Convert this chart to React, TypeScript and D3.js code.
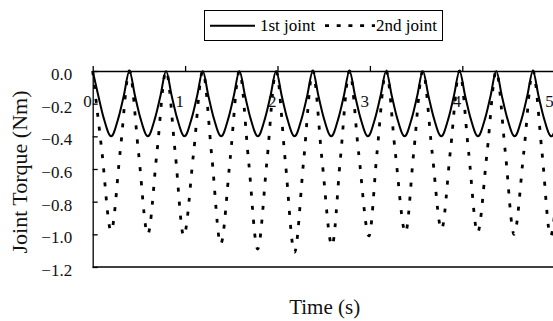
import React, { useEffect, useRef } from 'react';
import * as d3 from 'd3';

// 1st joint (solid line)
const joint1Time = [
  0, 0.06, 0.12, 0.199, 0.277, 0.337,
  0.397, 0.457, 0.517, 0.596, 0.674, 0.734,
  0.794, 0.854, 0.914, 0.993, 1.071, 1.131,
  1.191, 1.251, 1.311, 1.39, 1.468, 1.528,
  1.588, 1.648, 1.708, 1.787, 1.865, 1.925,
  1.985, 2.045, 2.105, 2.184, 2.262, 2.322,
  2.382, 2.442, 2.502, 2.581, 2.659, 2.719,
  2.779, 2.839, 2.899, 2.978, 3.056, 3.116,
  3.176, 3.236, 3.296, 3.375, 3.453, 3.513,
  3.573, 3.633, 3.693, 3.772, 3.85, 3.91,
  3.97, 4.03, 4.09, 4.169, 4.247, 4.307,
  4.367, 4.427, 4.487, 4.566, 4.644, 4.704,
  4.764, 4.824, 4.884, 4.963, 5.041, 5.101,
  5.161,
];
const joint1Torque = [
  0, -0.15, -0.29, -0.4, -0.29, -0.15,
  0, -0.15, -0.29, -0.4, -0.29, -0.15,
  0, -0.15, -0.29, -0.4, -0.29, -0.15,
  0, -0.15, -0.29, -0.4, -0.29, -0.15,
  0, -0.15, -0.29, -0.4, -0.29, -0.15,
  0, -0.15, -0.29, -0.4, -0.29, -0.15,
  0, -0.15, -0.29, -0.4, -0.29, -0.15,
  0, -0.15, -0.29, -0.4, -0.29, -0.15,
  0, -0.15, -0.29, -0.4, -0.29, -0.15,
  0, -0.15, -0.29, -0.4, -0.29, -0.15,
  0, -0.15, -0.29, -0.4, -0.29, -0.15,
  0, -0.15, -0.29, -0.4, -0.29, -0.15,
  0, -0.15, -0.29, -0.4, -0.29, -0.15,
  0,
];

// 2nd joint (dashed line)
const joint2Time = [
  0, 0.099, 0.199, 0.298,
  0.397, 0.496, 0.596, 0.695,
  0.794, 0.893, 0.985, 1.092,
  1.191, 1.29, 1.385, 1.489,
  1.588, 1.687, 1.785, 1.886,
  1.985, 2.084, 2.184, 2.283,
  2.382, 2.481, 2.59, 2.68,
  2.779, 2.878, 2.99, 3.077,
  3.176, 3.275, 3.385, 3.474,
  3.573, 3.672, 3.775, 3.871,
  3.97, 4.069, 4.165, 4.268,
  4.367, 4.466, 4.56, 4.665,
  4.764, 4.863, 4.955, 5.062,
  5.161,
];
const joint2Torque = [
  0, -0.49, -0.98, -0.49,
  0, -0.5, -1.0, -0.5,
  0, -0.5, -1.01, -0.5,
  0, -0.53, -1.06, -0.53,
  0, -0.55, -1.09, -0.55,
  0, -0.55, -1.11, -0.55,
  0, -0.54, -1.07, -0.54,
  0, -0.5, -1.01, -0.5,
  0, -0.5, -0.99, -0.5,
  0, -0.49, -0.97, -0.49,
  0, -0.5, -0.99, -0.5,
  0, -0.5, -1.0, -0.5,
  0, -0.5, -1.01, -0.5,
  0,
];

const xTicks = [0, 1, 2, 3, 4, 5];
const yTicks = [0, -0.2, -0.4, -0.6, -0.8, -1.0, -1.2];

const FONT = '"Liberation Serif", "Times New Roman", serif';

const App = () => {
  const svgRef = useRef(null);

  useEffect(() => {
    const width = 553;
    const height = 321;
    const left = 92.7;
    const top = 71;
    const bottom = 267;

    d3.select(svgRef.current).selectAll('*').remove();

    const svg = d3
      .select(svgRef.current)
      .attr('width', width)
      .attr('height', height);

    const x = d3.scaleLinear().domain([0, 5]).range([left, 554.7]);
    const y = d3.scaleLinear().domain([-1.2, 0]).range([bottom, top]);

    // curves
    const line = d3
      .line()
      .x(d => x(d[0]))
      .y(d => y(d[1]))
      .curve(d3.curveMonotoneX);

    const s1 = joint1Time.map((t, i) => [t, joint1Torque[i]]);
    const s2 = joint2Time.map((t, i) => [t, joint2Torque[i]]);

    svg
      .append('path')
      .attr('d', line(s2))
      .attr('fill', 'none')
      .attr('stroke', '#000')
      .attr('stroke-width', 2.8)
      .attr('stroke-dasharray', '4 10');

    svg
      .append('path')
      .attr('d', line(s1))
      .attr('fill', 'none')
      .attr('stroke', '#000')
      .attr('stroke-width', 2);

    // top axis (y = 0)
    const topAxis = svg
      .append('g')
      .attr('transform', `translate(0, ${top})`)
      .call(
        d3
          .axisTop(x)
          .tickValues(xTicks)
          .tickSizeInner(5)
          .tickSizeOuter(0)
          .tickFormat(() => '')
      );
    topAxis.selectAll('path, line').attr('stroke', '#000').attr('stroke-width', 1.3);

    svg
      .selectAll('.xlab')
      .data(xTicks)
      .enter()
      .append('text')
      .attr('x', d => x(d) - 1)
      .attr('y', 106.5)
      .attr('text-anchor', 'end')
      .style('font-family', FONT)
      .style('font-size', '17px')
      .attr('fill', '#111')
      .text(d => d);

    // left axis, ticks inward
    const leftAxis = svg
      .append('g')
      .attr('transform', `translate(${left}, 0)`)
      .call(
        d3
          .axisLeft(y)
          .tickValues(yTicks)
          .tickSizeInner(-5)
          .tickSizeOuter(0)
          .tickPadding(20.5)
          .tickFormat(d3.format('.1f'))
      );
    leftAxis.selectAll('path, line').attr('stroke', '#000').attr('stroke-width', 1.3);
    leftAxis
      .selectAll('text')
      .attr('dy', null)
      .attr('y', 8.5)
      .style('font-family', FONT)
      .style('font-size', '17px')
      .attr('fill', '#111');

    // bottom border
    svg
      .append('line')
      .attr('x1', left)
      .attr('x2', width)
      .attr('y1', bottom)
      .attr('y2', bottom)
      .attr('stroke', '#000')
      .attr('stroke-width', 1.3);

    // axis titles
    svg
      .append('text')
      .attr('x', 324.7)
      .attr('y', 314)
      .attr('text-anchor', 'middle')
      .style('font-family', FONT)
      .style('font-size', '21px')
      .attr('fill', '#111')
      .text('Time (s)');

    svg
      .append('text')
      .attr('transform', 'rotate(-90)')
      .attr('x', -172)
      .attr('y', 27)
      .attr('text-anchor', 'middle')
      .style('font-family', FONT)
      .style('font-size', '22px')
      .attr('fill', '#111')
      .text('Joint Torque (Nm)');

    // legend
    const legend = svg.append('g');
    legend
      .append('rect')
      .attr('x', 204.5)
      .attr('y', 10.5)
      .attr('width', 238)
      .attr('height', 30)
      .attr('fill', '#fff')
      .attr('stroke', '#000')
      .attr('stroke-width', 1);
    legend
      .append('line')
      .attr('x1', 210)
      .attr('x2', 255)
      .attr('y1', 25.7)
      .attr('y2', 25.7)
      .attr('stroke', '#000')
      .attr('stroke-width', 2);
    legend
      .append('text')
      .attr('x', 260)
      .attr('y', 30.5)
      .style('font-family', FONT)
      .style('font-size', '17px')
      .text('1st joint');
    legend
      .append('line')
      .attr('x1', 325)
      .attr('x2', 375)
      .attr('y1', 25.7)
      .attr('y2', 25.7)
      .attr('stroke', '#000')
      .attr('stroke-width', 2.8)
      .attr('stroke-dasharray', '4 7.7');
    legend
      .append('text')
      .attr('x', 376)
      .attr('y', 30.5)
      .style('font-family', FONT)
      .style('font-size', '17px')
      .text('2nd joint');
  }, []);

  return (
    <svg
      ref={svgRef}
      style={{ position: 'absolute', left: 0, top: 0, background: '#fff' }}
    ></svg>
  );
};

export default App;
